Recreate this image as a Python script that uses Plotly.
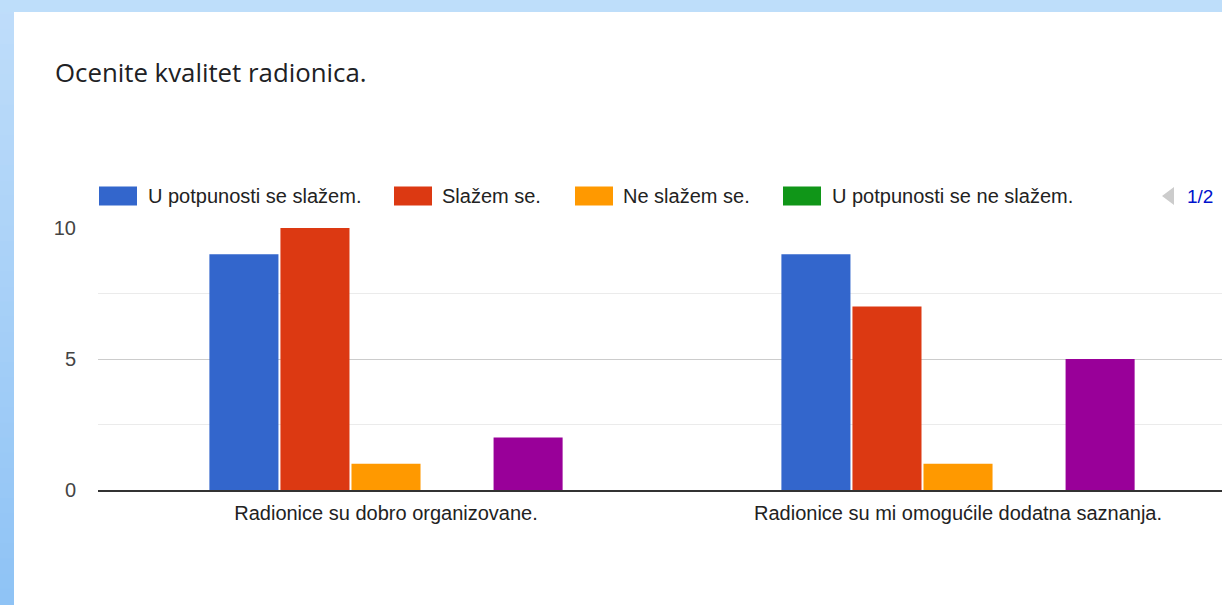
import plotly.graph_objects as go

# ---------------- data ----------------
categories = ["Radionice su dobro organizovane.",
              "Radionice su mi omogućile dodatna saznanja."]
series_names = ["U potpunosti se slažem.", "Slažem se.", "Ne slažem se.",
                "U potpunosti se ne slažem.", "Nemam mišljenje."]
vals_potpuno_slazem = [9, 9]
vals_slazem = [10, 7]
vals_ne_slazem = [1, 1]
vals_potpuno_ne = [0, 0]
vals_peti = [2, 5]
series_values = [vals_potpuno_slazem, vals_slazem, vals_ne_slazem,
                 vals_potpuno_ne, vals_peti]
y_ticks = [0, 5, 10]

# ---------------- style ----------------
colors = ["#3366cc", "#dc3912", "#ff9900", "#109618", "#990099"]
W, H = 1222, 605
L, R, T, B = 98, 0, 228, 115
PW, PH = W - L - R, H - T - B
FONT = "Liberation Sans, Arial, sans-serif"


def px_x(px):
    return (px - L) / PW


def px_y(py):
    return (H - B - py) / PH


fig = go.Figure()
for name, vals, col in zip(series_names, series_values, colors):
    fig.add_trace(go.Bar(x=categories, y=vals, name=name,
                         marker=dict(color=col, line=dict(width=0)),
                         showlegend=False))

shapes = []
annotations = []

# card background with light-blue frame
n_bands = 40
c_top = (191, 221, 250)
c_bot = (143, 195, 245)
for i in range(n_bands):
    t = i / (n_bands - 1)
    c = tuple(round(a + (b - a) * t) for a, b in zip(c_top, c_bot))
    shapes.append(dict(type="rect", xref="paper", yref="paper", layer="below",
                       x0=px_x(0), x1=px_x(14),
                       y0=px_y(H * i / n_bands - 1),
                       y1=px_y(H * (i + 1) / n_bands + 1),
                       fillcolor="rgb(%d,%d,%d)" % c, line=dict(width=0)))
shapes.append(dict(type="rect", xref="paper", yref="paper", layer="below",
                   x0=px_x(0), x1=px_x(W), y0=px_y(0), y1=px_y(12),
                   fillcolor="#bedefa", line=dict(width=0)))

# title
annotations.append(dict(xref="paper", yref="paper", x=px_x(53), y=px_y(72),
                        xanchor="left", yanchor="middle", showarrow=False,
                        text="Ocenite kvalitet radionica.",
                        font=dict(family="Open Sans, sans-serif", size=25.8,
                                  color="#202124")))

# legend (page 1 of 2)
swatch_x = [99, 394, 575, 783]
text_x = [146, 440, 621, 830]
leg_y = 196
for i in range(4):
    shapes.append(dict(type="rect", xref="paper", yref="paper",
                       x0=px_x(swatch_x[i]), x1=px_x(swatch_x[i] + 38),
                       y0=px_y(leg_y - 9.5), y1=px_y(leg_y + 9.5),
                       fillcolor=colors[i], line=dict(width=0)))
    annotations.append(dict(xref="paper", yref="paper", x=px_x(text_x[i]),
                            y=px_y(leg_y), xanchor="left", yanchor="middle",
                            showarrow=False, text=series_names[i],
                            font=dict(family=FONT, size=20, color="#222222")))

# pager
shapes.append(dict(type="path", xref="paper", yref="paper",
                   path="M %f %f L %f %f L %f %f Z" % (
                       px_x(1162), px_y(leg_y), px_x(1174), px_y(leg_y - 9),
                       px_x(1174), px_y(leg_y + 9)),
                   fillcolor="#cccccc", line=dict(width=0)))
annotations.append(dict(xref="paper", yref="paper", x=px_x(1185), y=px_y(leg_y),
                        xanchor="left", yanchor="middle", showarrow=False,
                        text="1/2", font=dict(family=FONT, size=19, color="#0011cc")))

fig.update_layout(
    width=W, height=H, autosize=False,
    margin=dict(l=L, r=R, t=T, b=B, pad=0),
    paper_bgcolor="white", plot_bgcolor="rgba(0,0,0,0)",
    barmode="group", bargap=0.379, bargroupgap=0.028,
    shapes=shapes, annotations=annotations,
    showlegend=False,
    xaxis=dict(type="category", range=[-0.5035, 1.4615], showgrid=False,
               ticks="", showline=True, linecolor="#333333", linewidth=2,
               tickfont=dict(family=FONT, size=20, color="#222222"),
               ticklabelstandoff=4, fixedrange=True),
    yaxis=dict(range=[0, 10], tickvals=y_ticks, showgrid=True,
               gridcolor="#cccccc", gridwidth=1, zeroline=False,
               minor=dict(dtick=2.5, tick0=0, showgrid=True,
                          gridcolor="#ebebeb", gridwidth=1),
               tickfont=dict(family=FONT, size=20, color="#444444"),
               ticklabelstandoff=21, ticks="", fixedrange=True),
)

fig.write_html("out.html",
               config=dict(displayModeBar=False, staticPlot=True),
               post_script="document.body.style.margin='0';"
                           "document.body.style.overflow='hidden';")
